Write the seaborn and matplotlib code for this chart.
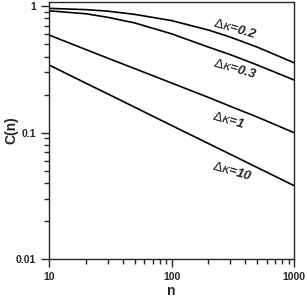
import numpy as np
import pandas as pd
import seaborn as sns
import matplotlib.pyplot as plt
from matplotlib.ticker import LogLocator, NullFormatter, FixedLocator, FixedFormatter

# values (log-log)
n_vals = [10, 20, 30, 50, 100, 200, 300, 500, 1000]
c_dk02 = [0.962, 0.940, 0.915, 0.862, 0.770, 0.648, 0.571, 0.475, 0.357]
c_dk03 = [0.920, 0.872, 0.818, 0.738, 0.605, 0.475, 0.415, 0.343, 0.261]
c_dk1 = [0.592, 0.454, 0.389, 0.321, 0.247, 0.190, 0.162, 0.133, 0.100]
c_dk10 = [0.343, 0.246, 0.203, 0.159, 0.114, 0.0820, 0.0677, 0.0530, 0.0381]

dk_labels = ["0.2", "0.3", "1", "10"]
# label anchor (n, C)
label_pos = [(330, 0.665), (330, 0.318), (290, 0.126), (315, 0.0497)]

series = [c_dk02, c_dk03, c_dk1, c_dk10]
df = pd.concat(
    [pd.DataFrame({"n": n_vals, "C": s, "dk": lab}) for s, lab in zip(series, dk_labels)],
    ignore_index=True,
)

sns.set_style("ticks")
plt.rcParams["font.family"] = ["Liberation Sans", "DejaVu Sans"]
plt.rcParams["mathtext.fontset"] = "dejavusans"

fig = plt.figure(figsize=(3.07, 3.02), dpi=100)
ax = fig.add_axes([0.16, 0.142, 0.798, 0.853])

sns.lineplot(data=df, x="n", y="C", hue="dk", palette=["black"] * 4,
             linewidth=1.2, legend=False, ax=ax)

ax.set_xscale("log")
ax.set_yscale("log")
ax.set_xlim(10, 1000)
ax.set_ylim(0.01, 1.09)

for lab, (x, y) in zip(dk_labels, label_pos):
    ax.text(x, y, r"$\Delta\kappa$" + "=" + lab, rotation=-16, ha="center", va="center",
            fontsize=9.5, fontweight="bold", fontstyle="italic")

ax.xaxis.set_major_locator(FixedLocator([10, 100, 1000]))
ax.xaxis.set_major_formatter(FixedFormatter(["10", "100", "1000"]))
ax.xaxis.set_minor_locator(LogLocator(base=10, subs=np.arange(2, 10), numticks=10))
ax.xaxis.set_minor_formatter(NullFormatter())
ax.yaxis.set_major_locator(FixedLocator([0.01, 0.1, 1]))
ax.yaxis.set_major_formatter(FixedFormatter(["0.01", "0.1", "1"]))
ax.yaxis.set_minor_locator(LogLocator(base=10, subs=np.arange(2, 10), numticks=10))
ax.yaxis.set_minor_formatter(NullFormatter())

ax.tick_params(which="major", direction="out", length=6, width=1, labelsize=7.5)
ax.tick_params(which="minor", direction="out", length=3.5, width=1)
for lbl in ax.get_xticklabels() + ax.get_yticklabels():
    lbl.set_fontweight("bold")
for sp in ax.spines.values():
    sp.set_linewidth(1)
    sp.set_visible(True)

ax.set_xlabel("n", fontsize=10, fontweight="bold", labelpad=1)
ax.set_ylabel("C(n)", fontsize=10, fontweight="bold")
ax.yaxis.set_label_coords(-0.125, 0.5)

fig.savefig("out.png", dpi=100)
